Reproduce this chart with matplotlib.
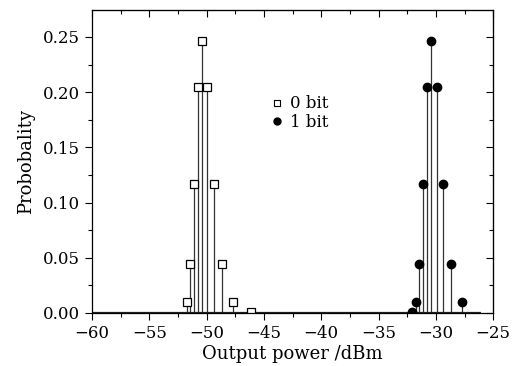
import matplotlib
matplotlib.use("Agg")
import matplotlib.pyplot as plt
from matplotlib.ticker import MultipleLocator, NullFormatter
from matplotlib.lines import Line2D

plt.rcParams['font.family'] = ['DejaVu Serif']

# values
x0 = [-51.74, -51.45, -51.13, -50.78, -50.37, -49.94, -49.35, -48.66, -47.72, -46.15]
p0 = [0.010, 0.044, 0.117, 0.205, 0.246, 0.205, 0.117, 0.044, 0.010, 0.001]
x1 = [-32.05, -31.76, -31.47, -31.12, -30.80, -30.39, -29.92, -29.37, -28.67, -27.71]
p1 = [0.001, 0.010, 0.044, 0.117, 0.205, 0.246, 0.205, 0.117, 0.044, 0.010]

fig = plt.figure(figsize=(5.17, 3.66), dpi=100)
ax = fig.add_axes([0.178, 0.145, 0.776, 0.828])

ax.vlines(x0, 0, p0, color='#333333', lw=0.9)
ax.vlines(x1, 0, p1, color='#333333', lw=0.9)
ax.hlines(0, -60, -26.1, color='#222222', lw=1.6)
ax.plot(x0, p0, 's', ms=5.5, mfc='white', mec='black', mew=0.9, ls='none')
ax.plot(x1, p1, 'o', ms=6, mfc='black', mec='black', ls='none')

ax.set_xlim(-60, -25)
ax.set_ylim(0, 0.2745)
ax.xaxis.set_major_locator(MultipleLocator(5))
ax.xaxis.set_minor_locator(MultipleLocator(2.5))
ax.yaxis.set_major_locator(MultipleLocator(0.05))
ax.yaxis.set_minor_locator(MultipleLocator(0.025))
ax.yaxis.set_major_formatter(plt.FuncFormatter(lambda v, p: f"{v:.2f}"))
ax.xaxis.set_major_formatter(plt.FuncFormatter(lambda v, p: f"\u2212{abs(int(v))}"))
ax.tick_params(axis='both', which='major', labelsize=12, length=5, width=0.8, direction='out')
ax.tick_params(axis='both', which='minor', length=3, width=0.8, direction='out')
for sp in ax.spines.values():
    sp.set_linewidth(0.9)

# inward ticks on top and right
top = ax.secondary_xaxis('top')
top.xaxis.set_major_locator(MultipleLocator(5))
top.xaxis.set_minor_locator(MultipleLocator(2.5))
top.xaxis.set_major_formatter(NullFormatter())
top.tick_params(which='major', direction='in', length=5, width=0.8)
top.tick_params(which='minor', direction='in', length=3, width=0.8)
right = ax.secondary_yaxis('right')
right.yaxis.set_major_locator(MultipleLocator(0.05))
right.yaxis.set_minor_locator(MultipleLocator(0.025))
right.yaxis.set_major_formatter(NullFormatter())
right.tick_params(which='major', direction='in', length=5, width=0.8)
right.tick_params(which='minor', direction='in', length=3, width=0.8)

ax.set_xlabel('Output power /dBm', fontsize=13, labelpad=2)
ax.set_ylabel('Probobality', fontsize=13, labelpad=6)

handles = [Line2D([], [], marker='s', ms=4.5, mfc='white', mec='black', mew=0.8, ls='none'),
           Line2D([], [], marker='o', ms=5, mfc='black', mec='black', ls='none')]
ax.legend(handles, ['0 bit', '1 bit'], loc='upper left', bbox_to_anchor=(0.428, 0.745),
          frameon=False, fontsize=12, handlelength=0.6, handletextpad=0.5,
          labelspacing=0.1, borderpad=0)

fig.savefig('out.png', dpi=100)
